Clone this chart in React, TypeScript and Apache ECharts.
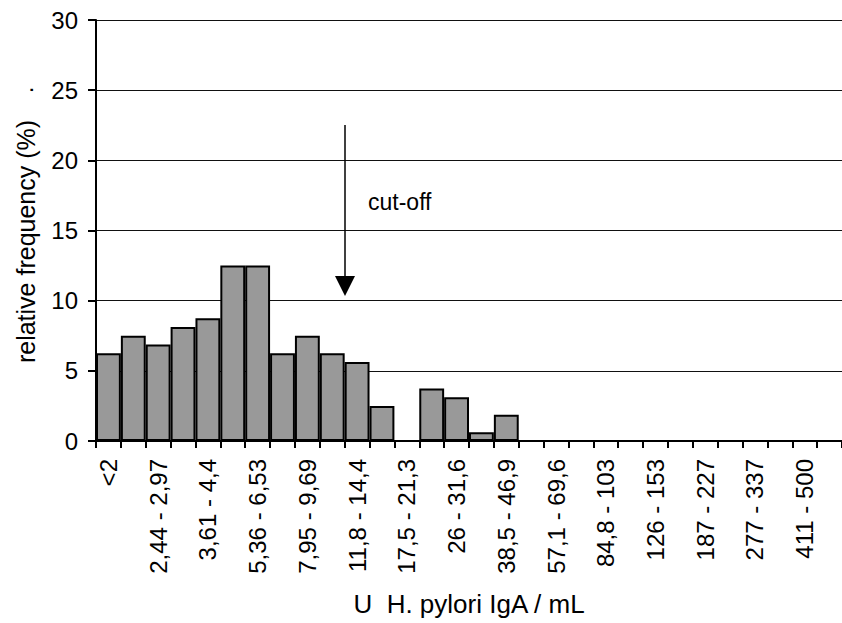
import React, { useEffect, useRef } from "react";
import * as echarts from "echarts";

const categories = [
  "<2", "2 - 2,44", "2,44 - 2,97", "2,97 - 3,61", "3,61 - 4,4", "4,4 - 5,36",
  "5,36 - 6,53", "6,53 - 7,95", "7,95 - 9,69", "9,69 - 11,8", "11,8 - 14,4",
  "14,4 - 17,5", "17,5 - 21,3", "21,3 - 26", "26 - 31,6", "31,6 - 38,5",
  "38,5 - 46,9", "46,9 - 57,1", "57,1 - 69,6", "69,6 - 84,8", "84,8 - 103",
  "103 - 126", "126 - 153", "153 - 187", "187 - 227", "227 - 277",
  "277 - 337", "337 - 411", "411 - 500", ">500",
];

const frequency = [
  6.25, 7.5, 6.875, 8.125, 8.75, 12.5, 12.5, 6.25, 7.5, 6.25, 5.625, 2.5, 0,
  3.75, 3.125, 0.625, 1.875, 0, 0, 0, 0, 0, 0, 0, 0, 0, 0, 0, 0, 0,
];

const yTicks = { min: 0, max: 30, interval: 5 };

const FONT = "Liberation Sans, Arial, sans-serif";

export default function App() {
  const ref = useRef<HTMLDivElement>(null);
  useEffect(() => {
    if (!ref.current) return;
    const chart = echarts.init(ref.current, null, { renderer: "svg" });
    chart.setOption({
      animation: false,
      backgroundColor: "#fff",
      textStyle: { fontFamily: FONT },
      grid: { left: 96, right: -7, top: 20, bottom: 182, containLabel: false },
      xAxis: {
        type: "category",
        data: categories,
        boundaryGap: true,
        name: "U  H. pylori IgA / mL",
        nameLocation: "middle",
        nameGap: 150,
        nameTextStyle: { fontSize: 26, color: "#000", fontFamily: FONT },
        axisLine: { lineStyle: { color: "#000", width: 2 } },
        axisTick: { show: true, interval: 0, length: 7, lineStyle: { color: "#000", width: 2 } },
        axisLabel: {
          interval: 1,
          rotate: 90,
          margin: 18,
          fontSize: 24,
          color: "#000",
          fontFamily: FONT,
        },
        splitLine: { show: false },
      },
      yAxis: {
        type: "value",
        min: yTicks.min,
        max: yTicks.max,
        interval: yTicks.interval,
        name: "relative frequency (%)",
        nameLocation: "middle",
        nameRotate: 90,
        nameGap: 58,
        nameTextStyle: { fontSize: 25, color: "#000", fontFamily: FONT, padding: [0, 22, 0, 0] },
        axisLine: { show: true, lineStyle: { color: "#000", width: 2 } },
        axisTick: { show: true, inside: false, length: 8, lineStyle: { color: "#000", width: 2 } },
        axisLabel: { margin: 18, fontSize: 24, color: "#000", fontFamily: FONT },
        splitLine: { show: true, lineStyle: { color: "#111", width: 1 } },
      },
      series: [
        {
          type: "bar",
          data: frequency,
          barCategoryGap: "0%",
          barWidth: "100%",
          itemStyle: { color: "#999999", borderColor: "#000", borderWidth: 2 },
          z: 2,
        },
      ],
      graphic: [
        {
          type: "line",
          shape: { x1: 345, y1: 125, x2: 345, y2: 280 },
          style: { stroke: "#000", lineWidth: 1.5 },
          z: 10,
        },
        {
          type: "polygon",
          shape: { points: [[335, 276], [355, 276], [345, 296]] },
          style: { fill: "#000" },
          z: 10,
        },
        {
          type: "text",
          x: 368,
          y: 202,
          style: { text: "cut-off", fontSize: 23, fill: "#000", fontFamily: FONT, verticalAlign: "middle" },
          z: 10,
        },
        {
          type: "text",
          x: 36,
          y: 90,
          rotation: Math.PI / 2,
          style: { text: ".", fontSize: 24, fill: "#000", fontFamily: FONT, align: "center", verticalAlign: "bottom" },
          z: 10,
        },
      ],
    });
    return () => chart.dispose();
  }, []);
  return (
    <div
      ref={ref}
      style={{ position: "absolute", left: 0, top: 0, width: 842, height: 623 }}
    />
  );
}
